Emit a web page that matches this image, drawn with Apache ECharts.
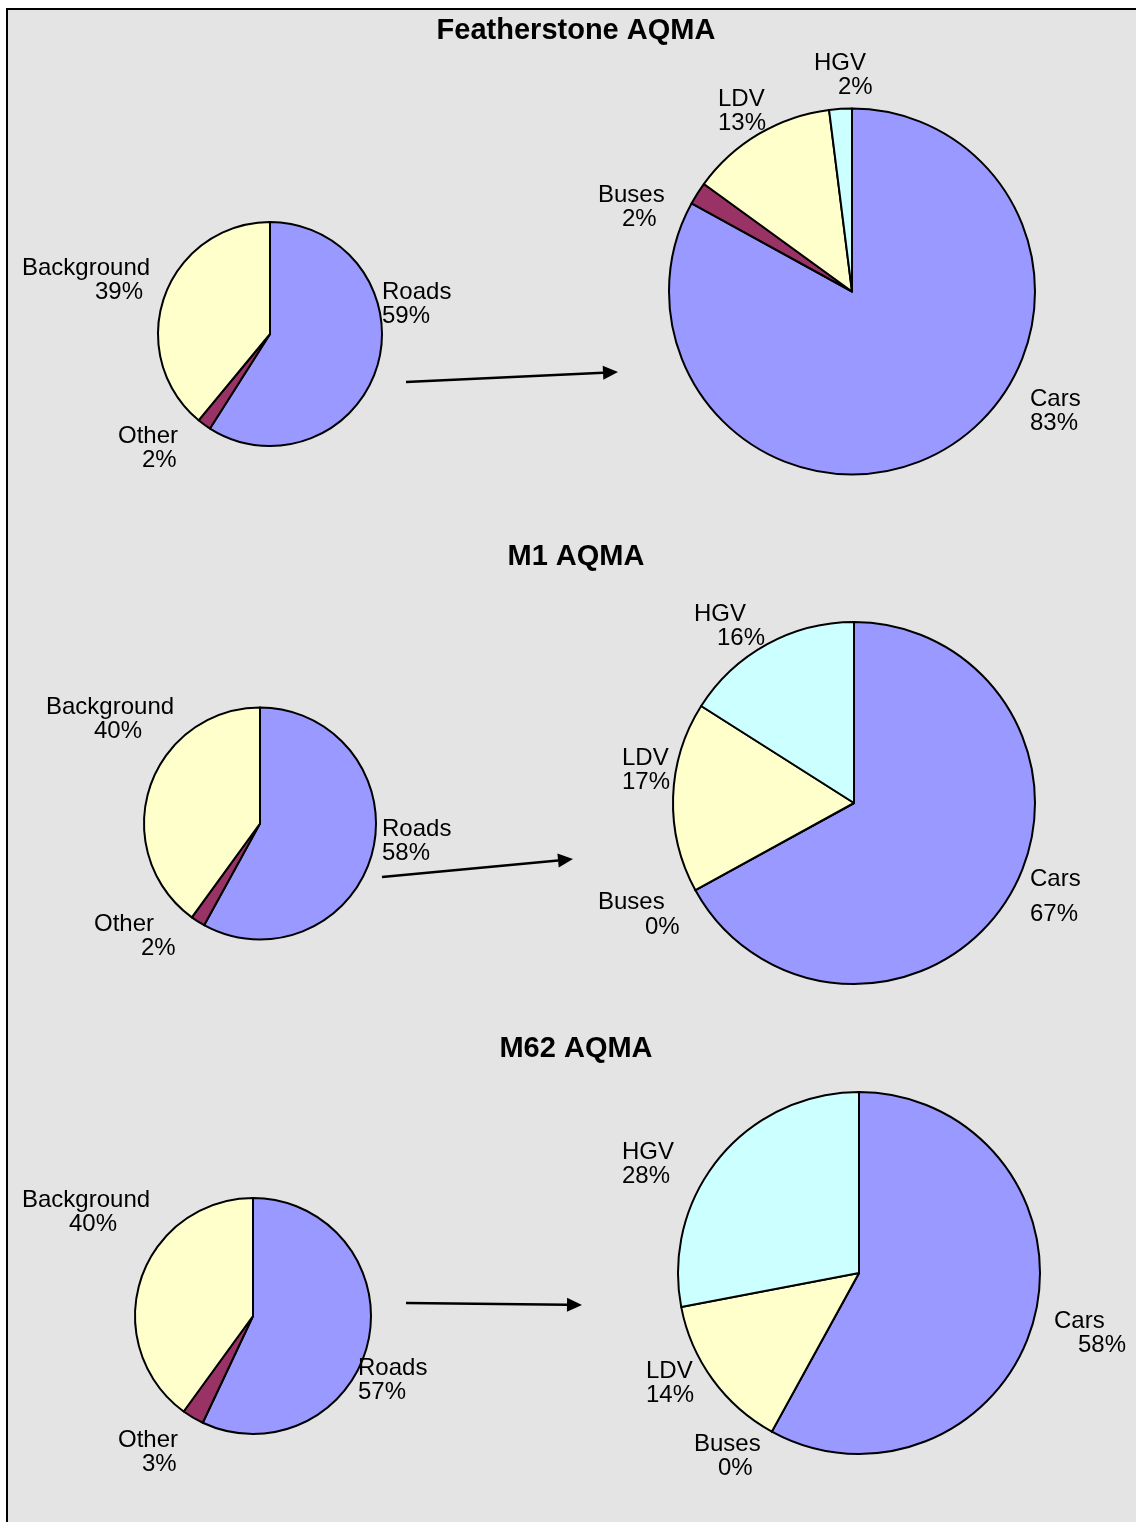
<!DOCTYPE html>
<html>
<head>
<meta charset="utf-8">
<title>AQMA source apportionment</title>
<script src="https://cdn.jsdelivr.net/npm/echarts@6/dist/echarts.min.js"></script>
<style>
  html, body { margin: 0; padding: 0; background: #fff; }
  #chart { width: 1136px; height: 1522px; }
</style>
</head>
<body>
<div id="chart"></div>
<script>
// chart data
const titles = ['Featherstone AQMA', 'M1 AQMA', 'M62 AQMA'];
const sourceNames = ['Roads', 'Other', 'Background'];
const featherstoneSource = [59, 2, 39];
const m1Source = [58, 2, 40];
const m62Source = [57, 3, 40];
const vehicleNames = ['Cars', 'Buses', 'LDV', 'HGV'];
const featherstoneVehicles = [83, 2, 13, 2];
const m1Vehicles = [67, 0, 17, 16];
const m62Vehicles = [58, 0, 14, 28];

const sourceColors = ['#9999FF', '#993366', '#FFFFCC'];
const vehicleColors = ['#9999FF', '#993366', '#FFFFCC', '#CCFFFF'];
const FONT = "'Liberation Sans', Arial, sans-serif";

// pie layout: [cx, cy, radius]
const pieGeom = [
  [270, 334, 112], [852, 291.5, 183],
  [260, 823.5, 116], [854, 803, 181],
  [253, 1316, 118], [859, 1273, 181]
];
// label placement per slice: [left x, first line centre y, 2nd line indent, line gap]
const labelSpots = [
  [[382, 292, 0, 24], [118, 436, 24, 24], [22, 268, 73, 24]],
  [[1030, 399, 0, 24], [598, 195, 24, 24], [718, 99, 0, 24], [814, 63, 24, 24]],
  [[382, 829, 0, 24], [94, 924, 47, 24], [46, 707, 48, 24]],
  [[1030, 879, 0, 35], [598, 902, 47, 25], [622, 758, 0, 24], [694, 614, 23, 24]],
  [[358, 1368, 0, 24], [118, 1440, 24, 24], [22, 1200, 47, 24]],
  [[1054, 1321, 24, 24], [694, 1444, 24, 24], [646, 1371, 0, 24], [622, 1152, 0, 24]]
];
const titleY = [31, 557, 1049];
// arrows from the small pie to the big one: [x1, y1, x2, y2]
const arrows = [
  [406, 382, 618, 372],
  [382, 877, 573, 859],
  [406, 1303, 582, 1305]
];

const pies = [
  [sourceNames, featherstoneSource, sourceColors],
  [vehicleNames, featherstoneVehicles, vehicleColors],
  [sourceNames, m1Source, sourceColors],
  [vehicleNames, m1Vehicles, vehicleColors],
  [sourceNames, m62Source, sourceColors],
  [vehicleNames, m62Vehicles, vehicleColors]
];

const chart = echarts.init(document.getElementById('chart'));

const series = pies.map(([names, values, colors], si) => {
  const g = pieGeom[si];
  return {
    type: 'pie',
    center: [g[0], g[1]],
    radius: [0, g[2]],
    startAngle: 90,
    clockwise: true,
    avoidLabelOverlap: false,
    silent: true,
    animation: false,
    itemStyle: { borderColor: '#000', borderWidth: 2 },
    labelLine: { show: false },
    data: names.map((name, i) => {
      const spot = labelSpots[si][i];
      return {
        name: name,
        value: values[i],
        itemStyle: { color: colors[i] },
        label: {
          show: true,
          position: 'outside',
          formatter: (p) => `{n|${p.name}}\n{p|${p.value}%}`,
          rich: {
            n: { fontFamily: FONT, fontSize: 24, lineHeight: 24, color: '#000' },
            p: {
              fontFamily: FONT, fontSize: 24, color: '#000',
              lineHeight: 2 * (spot[3] - 12),
              padding: [0, 0, 0, Math.max(0, spot[2])]
            }
          }
        }
      };
    }),
    labelLayout: (params) => {
      const spot = labelSpots[si][params.dataIndex];
      return { x: spot[0], y: spot[1] - 12, align: 'left', verticalAlign: 'top' };
    }
  };
});

function arrowGraphic([x1, y1, x2, y2]) {
  const len = Math.hypot(x2 - x1, y2 - y1);
  const ux = (x2 - x1) / len, uy = (y2 - y1) / len;
  const headLen = 15, headHalf = 7;
  const bx = x2 - ux * headLen, by = y2 - uy * headLen;
  return [
    {
      type: 'line',
      shape: { x1: x1, y1: y1, x2: bx, y2: by },
      style: { stroke: '#000', lineWidth: 2.5 }
    },
    {
      type: 'polygon',
      shape: {
        points: [
          [x2, y2],
          [bx - uy * headHalf, by + ux * headHalf],
          [bx + uy * headHalf, by - ux * headHalf]
        ]
      },
      style: { fill: '#000' }
    }
  ];
}

const graphic = [
  {
    type: 'rect',
    z: -10,
    shape: { x: 7, y: 9, width: 1300, height: 1700 },
    style: { fill: '#E4E4E4', stroke: '#000', lineWidth: 2 }
  },
  ...titles.map((t, i) => ({
    type: 'text',
    x: 576,
    y: titleY[i],
    style: {
      text: t,
      fontFamily: FONT,
      fontSize: 29,
      fontWeight: 'bold',
      fill: '#000',
      align: 'center',
      verticalAlign: 'middle'
    }
  })),
  ...arrows.flatMap(arrowGraphic)
];

const option = {
  backgroundColor: '#fff',
  animation: false,
  graphic: graphic,
  series: series
};

chart.setOption(option);
</script>
</body>
</html>
